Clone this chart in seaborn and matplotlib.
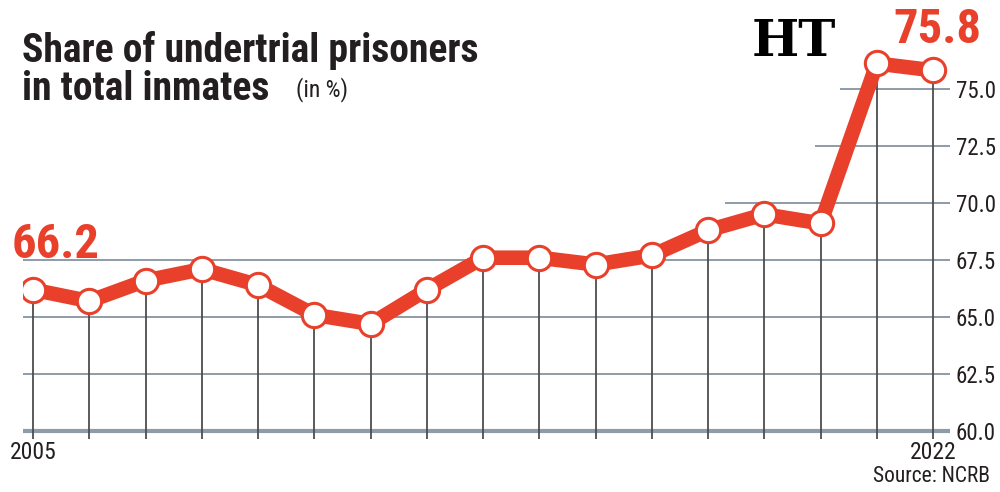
import matplotlib
matplotlib.use("Agg")
import matplotlib.pyplot as plt
from matplotlib import font_manager
import pandas as pd
import seaborn as sns

# data (2021 not shown in the source chart)
years = ["2005", "2006", "2007", "2008", "2009", "2010", "2011", "2012", "2013",
         "2014", "2015", "2016", "2017", "2018", "2019", "2020", "2022"]
share = [66.2, 65.7, 66.6, 67.1, 66.4, 65.1, 64.7, 66.2, 67.6,
         67.6, 67.3, 67.7, 68.8, 69.5, 69.1, 76.1, 75.8]
y_ticks = [60.0, 62.5, 65.0, 67.5, 70.0, 72.5, 75.0]
grid_start = {70.0: 12.3, 72.5: 13.9, 75.0: 14.35}

RED = "#E8402B"
INK = "#231F20"
GRID = "#8E9CA8"

sns.set_theme(style="white")

# narrowest usable sans available
names = {f.name for f in font_manager.fontManager.ttflist}
FONT = "Roboto"
for cand in ["Liberation Sans Narrow", "Roboto Condensed", "Open Sans Condensed"]:
    if cand in names:
        FONT = cand
        break
if FONT not in names:
    FONT = "DejaVu Sans"
plt.rcParams["font.family"] = [FONT, "DejaVu Sans"]

df = pd.DataFrame({"pos": range(len(years)), "year": years, "share": share})

fig = plt.figure(figsize=(10, 4.92), dpi=100)
fig.patch.set_facecolor("white")
ax = fig.add_axes([0.023, 0.107, 0.927, 0.8754])
ax.set_xlim(-0.18, 16.3)
ax.set_ylim(59.65, 78.5)

# horizontal grid, upper lines start near the right side
for t in y_ticks:
    x0 = grid_start.get(t, -0.18)
    ax.hlines(t, x0, 16.3, color=GRID, lw=3.0 if t == 60.0 else 1.4, zorder=1)

# verticals from each point down past the baseline
ax.vlines(df["pos"], 59.65, df["share"], color="#4D4D4D", lw=1.3, zorder=2)

sns.lineplot(data=df, x="pos", y="share", ax=ax, color=RED, lw=10.5,
             marker="o", markersize=17.5, markerfacecolor="white",
             markeredgecolor=RED, markeredgewidth=2.2, zorder=3,
             solid_joinstyle="round", solid_capstyle="round")

ax.annotate(f"{share[0]:.1f}", xy=(0, share[0]), xytext=(22, 32),
            textcoords="offset pixels", ha="center", va="baseline",
            fontsize=35, fontweight="bold", color=RED)
ax.annotate(f"{share[-1]:.1f}", xy=(16, share[-1]), xytext=(4, 27),
            textcoords="offset pixels", ha="center", va="baseline",
            fontsize=35, fontweight="bold", color=RED)

ax.yaxis.tick_right()
ax.set_yticks(y_ticks)
ax.set_yticklabels([f"{t:.1f}" for t in y_ticks], fontsize=16.5, color=INK)
ax.set_xticks([0, 16])
ax.set_xticklabels([years[0], years[-1]], fontsize=17, color=INK)
ax.tick_params(axis="both", length=0)
ax.tick_params(axis="y", pad=4)
ax.tick_params(axis="x", pad=1)
ax.set_xlabel("")
ax.set_ylabel("")
sns.despine(ax=ax, left=True, bottom=True, right=True, top=True)
if ax.get_legend():
    ax.get_legend().remove()

fig.text(0.022, 0.874, "Share of undertrial prisoners", fontsize=28.5,
         fontweight="bold", color=INK, va="baseline")
fig.text(0.022, 0.797, "in total inmates", fontsize=28.5,
         fontweight="bold", color=INK, va="baseline")
fig.text(0.296, 0.803, "(in %)", fontsize=17, color=INK, va="baseline")
fig.text(0.794, 0.886, "HT", fontsize=36, fontweight="bold",
         family="DejaVu Serif", color="black", ha="center", va="baseline")
fig.text(0.990, 0.020, "Source: NCRB", fontsize=15.5, color=INK, ha="right",
         va="baseline")

fig.savefig("out.png", dpi=100, facecolor="white")
